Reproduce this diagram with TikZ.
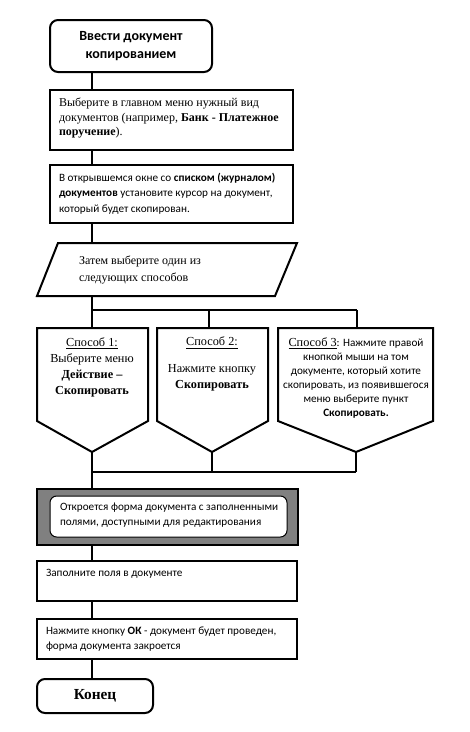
\documentclass[tikz,border=0pt]{standalone}
\usepackage{fontspec}
\setmainfont{Liberation Serif}
\newfontfamily\calfont{Carlito}
\begin{document}
\begin{tikzpicture}[x=0.75pt,y=-0.75pt,line width=1.5pt,
  blk/.style={draw,rectangle,inner sep=0pt},
  txt/.style={inner sep=0pt,align=left,anchor=west},
  ctxt/.style={inner sep=0pt,align=center},
  sans/.style={font=\calfont\fontsize{8.4}{11.5}\selectfont}]
\useasboundingbox (0,0) rectangle (470,732);
% start
\node[blk,rounded corners=6pt,minimum width=121.5pt,minimum height=39pt] (start) at (131,46) {};
\node[ctxt,font=\calfont\bfseries\fontsize{10.5}{13.5}\selectfont] (startt) at (131,46) {Ввести документ\\копированием};
% box 2
\node[blk,minimum width=182.25pt,minimum height=45pt] (b2) at (171.5,120) {};
\node[txt,font=\fontsize{9}{11}\selectfont] (b2t) at (58,118) {Выберите в главном меню нужный вид\\документов (например, \textbf{Банк - Платежное}\\\textbf{поручение}).};
% box 3
\node[blk,minimum width=182.25pt,minimum height=43.5pt] (b3) at (171.5,194) {};
\node[txt,sans] (b3t) at (58,193.5) {В открывшемся окне со \textbf{списком (журналом)}\\\textbf{документов} установите курсор на документ,\\который будет скопирован.};
% parallelogram
\coordinate (p1) at (58,243); \coordinate (p2) at (297,243);
\coordinate (p3) at (275,296); \coordinate (p4) at (37,296);
\draw (p1) -- (p2) -- (p3) -- (p4) -- cycle;
\coordinate (ptop) at (92,243); \coordinate (pbot) at (92,296);
\node[txt,font=\fontsize{9}{12.75}\selectfont] (pt) at (78,269.5) {Затем выберите один из\\следующих способов};
% branch line
\coordinate (s0) at (92,310); \coordinate (sB) at (209,310); \coordinate (sC) at (357,310);
% option boxes
\coordinate (A1) at (37,328); \coordinate (A2) at (148,328); \coordinate (A3) at (148,421); \coordinate (Ap) at (92,452); \coordinate (A4) at (37,421);
\draw (A1) -- (A2) -- (A3) -- (Ap) -- (A4) -- cycle;
\coordinate (Atop) at (92,328);
\coordinate (B1) at (157,328); \coordinate (B2) at (268,328); \coordinate (B3) at (268,421); \coordinate (Bp) at (212,452); \coordinate (B4) at (157,421);
\draw (B1) -- (B2) -- (B3) -- (Bp) -- (B4) -- cycle;
\coordinate (Btop) at (209,328);
\coordinate (C1) at (278,328); \coordinate (C2) at (433,328); \coordinate (C3) at (433,421); \coordinate (Cp) at (356,452); \coordinate (C4) at (278,421);
\draw (C1) -- (C2) -- (C3) -- (Cp) -- (C4) -- cycle;
\coordinate (Ctop) at (357,328);
\node[ctxt,font=\fontsize{9.2}{12}\selectfont] (At) at (92,367) {\underline{Способ 1:}\\Выберите меню\\\textbf{Действие –}\\\textbf{Скопировать}};
\node[ctxt,font=\fontsize{9.2}{12}\selectfont] (Bt0) at (212,343) {\underline{Способ 2:}};
\node[ctxt,font=\fontsize{9.2}{12}\selectfont] (Bt) at (212,377.5) {Нажмите кнопку\\\textbf{Скопировать}};
\node[ctxt,font=\calfont\fontsize{8.4}{10.5}\selectfont] (Ct) at (356,378) {{\rmfamily\fontsize{9.2}{10.5}\selectfont\underline{Способ 3}}: Нажмите правой\\кнопкой мыши на том\\документе, который хотите\\скопировать, из появившегося\\меню выберите пункт\\\textbf{Скопировать.}};
% join line
\coordinate (j0) at (92,472); \coordinate (jB) at (212,472); \coordinate (jC) at (356,472);
% gray box
\node[blk,fill=black!50,minimum width=195.75pt,minimum height=42pt] (g) at (167.5,517) {};
\node[draw,line width=0.75pt,fill=white,rounded corners=5pt,minimum width=177.75pt,minimum height=30.75pt,inner sep=0pt] (gi) at (168.5,516.5) {};
\node[txt,font=\calfont\fontsize{8.4}{11.25}\selectfont] (gt) at (59,515.5) {Откроется форма документа с заполненными\\полями, доступными для редактирования};
% fill box
\node[blk,minimum width=195pt,minimum height=30pt] (f) at (167,581) {};
\node[txt,sans] (ft) at (45,574) {Заполните поля в документе};
% ok box
\node[blk,minimum width=195pt,minimum height=30pt] (ok) at (167,639) {};
\node[txt,font=\calfont\fontsize{8.4}{11.25}\selectfont] (okt) at (45,639.5) {Нажмите кнопку \textbf{ОК} - документ будет проведен,\\форма документа закроется};
% end
\node[blk,rounded corners=6pt,minimum width=87pt,minimum height=25.5pt,font=\bfseries\fontsize{11.5}{12}\selectfont] (end) at (95,696) {Конец};
% connectors
\draw (start.south -| 92,0) -- (b2.north -| 92,0);
\draw (b2.south -| 92,0) -- (b3.north -| 92,0);
\draw (b3.south -| 92,0) -- (ptop);
\draw (pbot) -- (s0);
\draw (s0) -- (sC);
\draw (s0) -- (Atop);
\draw (sB) -- (Btop);
\draw (sC) -- (Ctop);
\draw (Ap) -- (j0);
\draw (Bp) -- (jB);
\draw (Cp) -- (jC);
\draw (j0) -- (jC);
\draw (j0) -- (g.north -| 92,0);
\draw (g.south -| 92,0) -- (f.north -| 92,0);
\draw (f.south -| 92,0) -- (ok.north -| 92,0);
\draw (ok.south -| 92,0) -- (end.north -| 92,0);
\end{tikzpicture}
\end{document}
